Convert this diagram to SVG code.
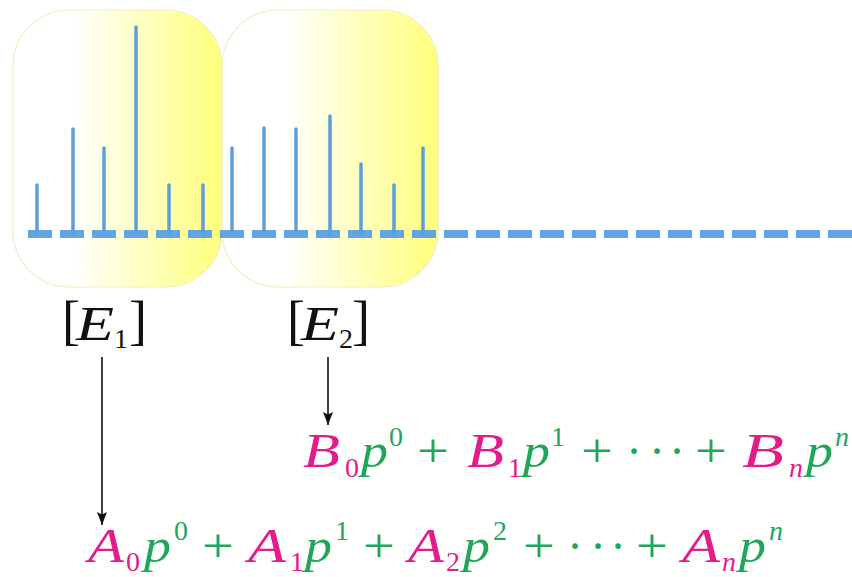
<svg xmlns="http://www.w3.org/2000/svg" width="852" height="577" viewBox="0 0 852 577">
  <defs>
    <linearGradient id="yel" x1="0" y1="0" x2="1" y2="0">
      <stop offset="0" stop-color="#ffffff"/>
      <stop offset="0.28" stop-color="#ffffff"/>
      <stop offset="1" stop-color="#ffff7c"/>
    </linearGradient>
    <marker id="arr" viewBox="0 0 13 10" refX="13" refY="5" markerWidth="13" markerHeight="10" markerUnits="userSpaceOnUse" orient="auto">
      <path d="M0,0 L13,5 L0,10 L2.5,5 Z" fill="#111"/>
    </marker>
  </defs>
  <style>
    .box { fill: url(#yel); stroke: #efefc4; stroke-width: 1.2; }
    .stem { stroke: #5c9fdb; stroke-width: 3.5; stroke-linecap: round; }
    .base { stroke: #62a5e0; stroke-width: 8; stroke-dasharray: 24 8; fill: none; }
    .lbl { font-family: "Liberation Serif", "DejaVu Serif", serif; font-size: 48px; fill: #111; }
    .br { font-size: 54px; }
    .eq { font-family: "Liberation Serif", "DejaVu Serif", serif; font-size: 48px; }
    .it { font-style: italic; }
    .sm { font-size: 28px; }
    .pk { fill: #e41c8a; }
    .gr { fill: #1fa65a; }
    .conn { stroke: #111; stroke-width: 1.6; fill: none; marker-end: url(#arr); }
  </style>
  <rect width="852" height="577" fill="#ffffff"/>

  <g id="box1">
    <rect class="box" x="13" y="10" width="209" height="277" rx="56" ry="56"/>
  </g>
  <g id="box2">
    <rect class="box" x="222" y="10" width="216" height="277" rx="56" ry="56"/>
  </g>

  <g id="signal">
    <line class="base" x1="28" y1="234" x2="852" y2="234"/>
    <line class="stem" x1="37" y1="185" x2="37" y2="234"/>
    <line class="stem" x1="73" y1="129" x2="73" y2="234"/>
    <line class="stem" x1="104" y1="148" x2="104" y2="234"/>
    <line class="stem" x1="136" y1="27" x2="136" y2="234"/>
    <line class="stem" x1="169" y1="185" x2="169" y2="234"/>
    <line class="stem" x1="203" y1="185" x2="203" y2="234"/>
    <line class="stem" x1="232" y1="148" x2="232" y2="234"/>
    <line class="stem" x1="264" y1="128" x2="264" y2="234"/>
    <line class="stem" x1="296" y1="129" x2="296" y2="234"/>
    <line class="stem" x1="330" y1="116" x2="330" y2="234"/>
    <line class="stem" x1="361" y1="164" x2="361" y2="234"/>
    <line class="stem" x1="394" y1="185" x2="394" y2="234"/>
    <line class="stem" x1="423" y1="148" x2="423" y2="234"/>
  </g>

  <g id="label-e1">
    <text class="lbl"><tspan class="br" x="62" y="339">[</tspan><tspan class="it" x="76" y="340" textLength="38" lengthAdjust="spacingAndGlyphs">E</tspan><tspan class="sm" x="114" y="348">1</tspan><tspan class="br" x="129" y="339">]</tspan></text>
  </g>
  <g id="label-e2">
    <text class="lbl"><tspan class="br" x="287" y="339">[</tspan><tspan class="it" x="301" y="340" textLength="38" lengthAdjust="spacingAndGlyphs">E</tspan><tspan class="sm" x="339" y="348">2</tspan><tspan class="br" x="352" y="339">]</tspan></text>
  </g>

  <g id="connectors">
    <line class="conn" x1="102" y1="357" x2="102" y2="525"/>
    <line class="conn" x1="328" y1="357" x2="328" y2="425"/>
  </g>

  <g id="eq-b">
    <text class="eq"><tspan class="it pk" x="303" y="467" textLength="37" lengthAdjust="spacingAndGlyphs">B</tspan><tspan class="sm pk" x="345" y="477">0</tspan><tspan class="it gr" x="361" y="467" textLength="27" lengthAdjust="spacingAndGlyphs">p</tspan><tspan class="sm gr" x="389" y="446">0</tspan><tspan class="gr" x="417" y="467" textLength="32" lengthAdjust="spacingAndGlyphs">+</tspan><tspan class="it pk" x="467" y="467" textLength="37" lengthAdjust="spacingAndGlyphs">B</tspan><tspan class="sm pk" x="508" y="477">1</tspan><tspan class="it gr" x="523" y="467" textLength="27" lengthAdjust="spacingAndGlyphs">p</tspan><tspan class="sm gr" x="551" y="446">1</tspan><tspan class="gr" x="581" y="467" textLength="32" lengthAdjust="spacingAndGlyphs">+</tspan><tspan class="gr" x="626" y="467">·</tspan><tspan class="gr" x="649" y="467">·</tspan><tspan class="gr" x="669" y="467">·</tspan><tspan class="gr" x="695" y="467" textLength="32" lengthAdjust="spacingAndGlyphs">+</tspan><tspan class="it pk" x="742" y="467" textLength="42" lengthAdjust="spacingAndGlyphs">B</tspan><tspan class="sm it pk" x="789" y="477">n</tspan><tspan class="it gr" x="806" y="467" textLength="27" lengthAdjust="spacingAndGlyphs">p</tspan><tspan class="sm it gr" x="835" y="446">n</tspan></text>
  </g>

  <g id="eq-a">
    <text class="eq"><tspan class="it pk" x="88" y="562" textLength="36" lengthAdjust="spacingAndGlyphs">A</tspan><tspan class="sm pk" x="126" y="571">0</tspan><tspan class="it gr" x="144" y="562" textLength="27" lengthAdjust="spacingAndGlyphs">p</tspan><tspan class="sm gr" x="174" y="540">0</tspan><tspan class="gr" x="202" y="562" textLength="32" lengthAdjust="spacingAndGlyphs">+</tspan><tspan class="it pk" x="248" y="562" textLength="38" lengthAdjust="spacingAndGlyphs">A</tspan><tspan class="sm pk" x="290" y="571">1</tspan><tspan class="it gr" x="305" y="562" textLength="27" lengthAdjust="spacingAndGlyphs">p</tspan><tspan class="sm gr" x="335" y="540">1</tspan><tspan class="gr" x="363" y="562" textLength="32" lengthAdjust="spacingAndGlyphs">+</tspan><tspan class="it pk" x="408" y="562" textLength="36" lengthAdjust="spacingAndGlyphs">A</tspan><tspan class="sm pk" x="446" y="571">2</tspan><tspan class="it gr" x="463" y="562" textLength="27" lengthAdjust="spacingAndGlyphs">p</tspan><tspan class="sm gr" x="493" y="540">2</tspan><tspan class="gr" x="523" y="562" textLength="32" lengthAdjust="spacingAndGlyphs">+</tspan><tspan class="gr" x="567" y="562">·</tspan><tspan class="gr" x="590" y="562">·</tspan><tspan class="gr" x="610" y="562">·</tspan><tspan class="gr" x="636" y="562" textLength="32" lengthAdjust="spacingAndGlyphs">+</tspan><tspan class="it pk" x="682" y="562" textLength="38" lengthAdjust="spacingAndGlyphs">A</tspan><tspan class="sm it pk" x="722" y="571">n</tspan><tspan class="it gr" x="739" y="562" textLength="27" lengthAdjust="spacingAndGlyphs">p</tspan><tspan class="sm it gr" x="769" y="540">n</tspan></text>
  </g>
</svg>
